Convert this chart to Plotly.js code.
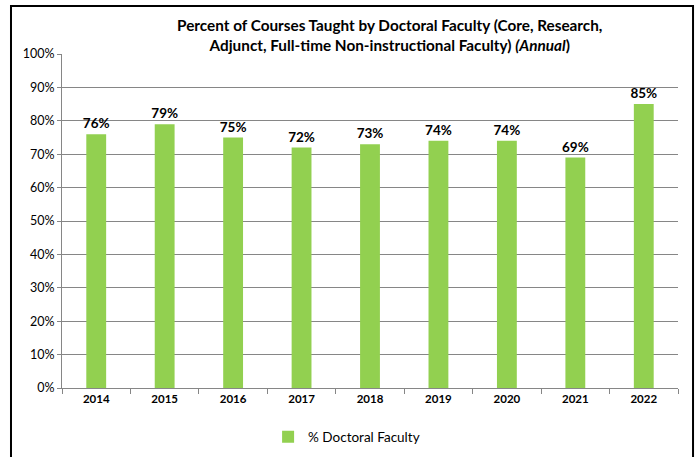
<!DOCTYPE html>
<html><head><meta charset="utf-8">
<script src="https://cdn.plot.ly/plotly-3.0.1.min.js"></script>
<style>html,body{margin:0;padding:0;background:#fff;}#chart{width:696px;height:457px;}</style>
</head><body><div id="chart"></div>
<script>
const years = ['2014','2015','2016','2017','2018','2019','2020','2021','2022'];
const doctoralPct = [76, 79, 75, 72, 73, 74, 74, 69, 85];
const yTicks = [0,10,20,30,40,50,60,70,80,90,100];
const yTickLabels = yTicks.map(v => v + '%');
const seriesName = '% Doctoral Faculty';

const font = 'Lato, "Open Sans", "Liberation Sans", sans-serif';

const trace = {
  type: 'bar',
  x: years,
  y: doctoralPct,
  name: seriesName,
  marker: {color: '#92D050'},
  width: 0.29,
  text: doctoralPct.map(v => '<b>' + v + '%</b>'),
  textposition: 'outside',
  constraintext: 'none',
  textfont: {family: font, size: 13.5, color: '#000'},
  cliponaxis: false,
  hoverinfo: 'skip'
};

const layout = {
  width: 696, height: 457,
  margin: {l: 62, r: 18, t: 54, b: 69},
  paper_bgcolor: '#fff', plot_bgcolor: '#fff',
  font: {family: font, color: '#000', size: 12},
  title: {
    text: '<b>Percent of Courses Taught by Doctoral Faculty (Core, Research,<br>Adjunct, Full-time Non-instructional Faculty) <i>(Annual</i>)</b>',
    font: {family: font, size: 15.3, color: '#000'},
    x: 0.560, xref: 'container', xanchor: 'center', y: 0.932, yanchor: 'middle', yref: 'container'
  },
  xaxis: {
    type: 'category',
    showline: true, linecolor: '#868686', linewidth: 1,
    ticks: 'outside', ticklen: 5, tickcolor: '#868686', tickson: 'boundaries',
    tickfont: {family: font, size: 11.5, color: '#000', weight: 'bold'},
    showgrid: false
  },
  yaxis: {
    range: [0, 100],
    tickvals: yTicks, ticktext: yTickLabels,
    showline: true, linecolor: '#868686', linewidth: 1,
    ticks: 'outside', ticklen: 4, tickcolor: '#868686',
    showgrid: true, gridcolor: '#868686', gridwidth: 1,
    zeroline: false,
    tickfont: {family: font, size: 12.5, color: '#000'}
  },
  showlegend: true,
  legend: {
    orientation: 'h', x: 0.462, xanchor: 'center', y: 0.044, yref: 'container', yanchor: 'middle',
    font: {family: font, size: 13.5, color: '#000'}
  },
  shapes: [{
    type: 'rect', xref: 'paper', yref: 'paper',
    x0: -0.0828, x1: 1.0244, y0: -0.3, y1: 1.1437,
    line: {color: '#000', width: 2}, fillcolor: 'rgba(0,0,0,0)', layer: 'above'
  }]
};

Plotly.newPlot('chart', [trace], layout, {displayModeBar: false, staticPlot: true});
</script></body></html>
